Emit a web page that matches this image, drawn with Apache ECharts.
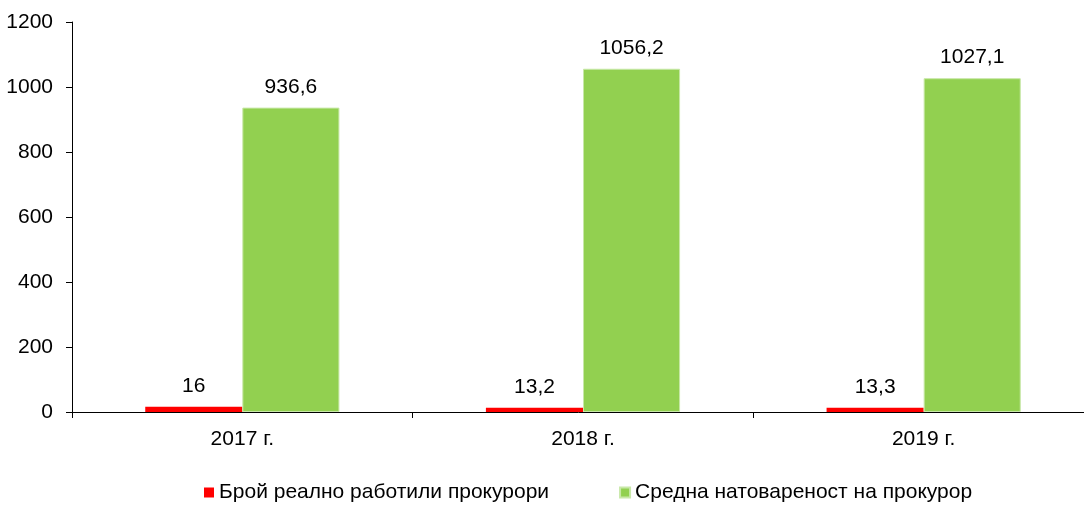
<!DOCTYPE html>
<html>
<head>
<meta charset="utf-8">
<script src="https://cdn.jsdelivr.net/npm/echarts@6/dist/echarts.min.js"></script>
<style>
  html, body { margin: 0; padding: 0; background: #fff; }
  #chart { width: 1084px; height: 506px; }
</style>
</head>
<body>
<div id="chart"></div>
<script>
var years = ['2017 г.', '2018 г.', '2019 г.'];
var prosecutors = [16, 13.2, 13.3];
var workload = [936.6, 1056.2, 1027.1];
var seriesNames = ['Брой реално работили прокурори', 'Средна натовареност на прокурор'];

var font = 'Liberation Sans, Arial, sans-serif';

function commaLabel(p) {
  return String(p.value).replace('.', ',');
}

var myChart = echarts.init(document.getElementById('chart'));
var option = {
  animation: false,
  textStyle: { fontFamily: font },
  grid: { left: 72, width: 1022, top: 22, bottom: 94, outerBoundsMode: 'none', containLabel: false },
  legend: {
    data: seriesNames,
    bottom: -2,
    left: 199,
    icon: 'rect',
    itemWidth: 10,
    itemHeight: 10,
    itemGap: 70,
    textStyle: { fontFamily: font, fontSize: 21, color: '#000' }
  },
  xAxis: {
    type: 'category',
    data: years,
    axisLine: { lineStyle: { color: '#000', width: 1 } },
    axisTick: { show: true, length: 6, lineStyle: { color: '#000' } },
    axisLabel: { color: '#000', fontSize: 21, fontFamily: font, margin: 17 }
  },
  yAxis: {
    type: 'value',
    min: 0,
    max: 1200,
    interval: 200,
    splitLine: { show: false },
    axisLine: { show: true, lineStyle: { color: '#000', width: 1 } },
    axisTick: { show: true, length: 6, lineStyle: { color: '#000' } },
    axisLabel: { color: '#000', fontSize: 21, fontFamily: font, margin: 19, formatter: function (v) { return String(v); } }
  },
  series: [
    {
      name: seriesNames[0],
      type: 'bar',
      data: prosecutors,
      barWidth: '28.5%',
      barGap: '0%',
      itemStyle: { color: '#FF0000' },
      label: { show: true, position: 'top', distance: 10, color: '#000', fontSize: 21, fontFamily: font, formatter: commaLabel }
    },
    {
      name: seriesNames[1],
      type: 'bar',
      data: workload,
      barWidth: '28.5%',
      barGap: '0%',
      itemStyle: { color: '#92D050', borderColor: '#C8E8A8', borderWidth: 1 },
      label: { show: true, position: 'top', distance: 10, color: '#000', fontSize: 21, fontFamily: font, formatter: commaLabel }
    }
  ]
};
myChart.setOption(option);
</script>
</body>
</html>
